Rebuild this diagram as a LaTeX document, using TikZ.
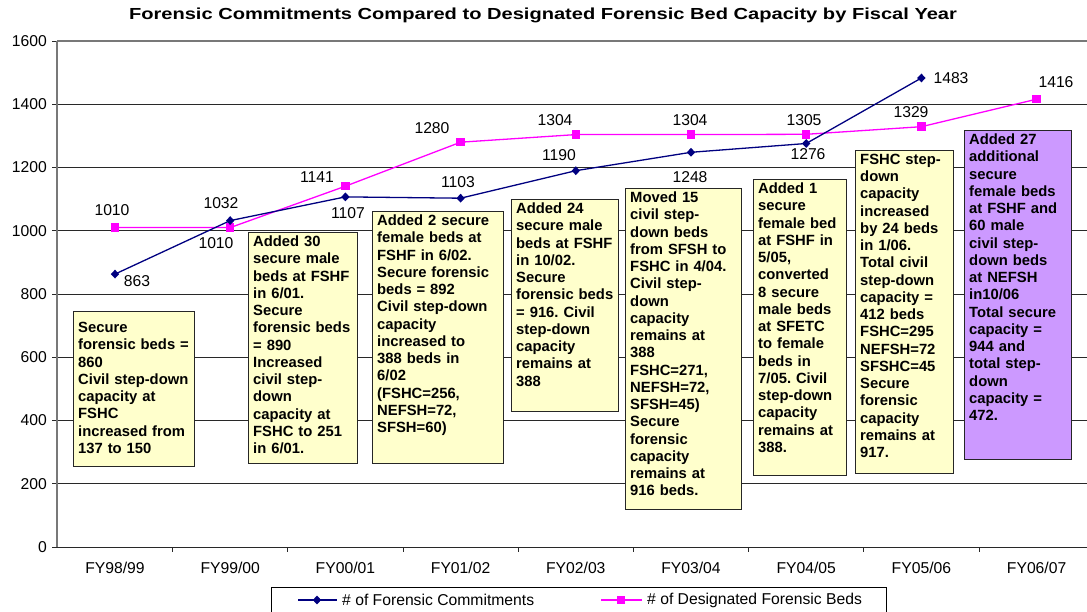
\documentclass[tikz,border=0pt]{standalone}
\usepackage{fontspec}
\setmainfont{Liberation Sans}
\usetikzlibrary{shapes.geometric}
\definecolor{navy}{RGB}{0,0,128}
\definecolor{mag}{RGB}{255,0,255}
\definecolor{note}{RGB}{255,255,204}
\definecolor{lilac}{RGB}{204,153,255}
\definecolor{gridc}{RGB}{40,40,40}
\definecolor{axisc}{RGB}{120,120,120}
\frenchspacing
\begin{document}
\begin{tikzpicture}[x=1pt,y=1pt,
 num/.style={font=\fontsize{15.7}{18}\selectfont, inner sep=0pt, text=black},
 boxfrm/.style={draw=black!85, line width=0.9pt, fill=note, inner sep=0pt, anchor=north west},
 boxtxt/.style={font=\fontsize{14.8}{17.25}\selectfont\bfseries, inner sep=0pt, anchor=north west, align=left},
 dia/.style={diamond, fill=navy, inner sep=0pt, minimum width=8.5pt, minimum height=9pt},
 sq/.style={rectangle, fill=mag, inner sep=0pt, minimum size=8.5pt},
 gridl/.style={draw=gridc, line width=0.8pt},
 tick/.style={draw=gridc, line width=0.8pt},
 navyl/.style={draw=navy, line width=1.3pt},
 magl/.style={draw=mag, line width=1.3pt}]
\useasboundingbox (0,0) rectangle (1087,611);
\begin{scope}[shift={(0,611)}, yscale=-1]
% title
\node[font=\fontsize{16}{19}\selectfont\bfseries, inner sep=0pt] (title) at (543,15)
 {\scalebox{1.255}[1]{Forensic Commitments Compared to Designated Forensic Bed Capacity by Fiscal Year}};
% grid and y labels
\foreach \v in {0,200,...,1400}{
  \pgfmathsetmacro\py{547-\v*0.31625}
  \coordinate (gl\v) at (57,\py);
  \coordinate (gr\v) at (1087,\py);
  \coordinate (gt\v) at (52,\py);
  \draw[gridl] (gl\v) -- (gr\v);
  \draw[tick] (gt\v) -- (gl\v);
  \node[num, anchor=east] (yl\v) at (47,\py) {\v};
}
\coordinate (gl1600) at (57,41);
\coordinate (gr1600) at (1087,41);
\coordinate (gt1600) at (52,41);
\draw[draw=axisc, line width=1.3pt] (gl1600) -- (gr1600);
\draw[tick] (gt1600) -- (gl1600);
\node[num, anchor=east] (yl1600) at (47,41) {1600};
\draw[draw=axisc, line width=1.3pt] (gl1600) -- (gl0);
% x ticks
\foreach \k in {1,...,9}{
  \pgfmathsetmacro\tx{57.4+115.2*\k}
  \coordinate (xt\k) at (\tx,547);
  \coordinate (xb\k) at (\tx,552);
  \draw[tick] (xt\k) -- (xb\k);
}
% x labels
\node[num] (x1) at (115,568) {FY98/99};
\node[num] (x2) at (230.2,568) {FY99/00};
\node[num] (x3) at (345.4,568) {FY00/01};
\node[num] (x4) at (460.6,568) {FY01/02};
\node[num] (x5) at (575.8,568) {FY02/03};
\node[num] (x6) at (691,568) {FY03/04};
\node[num] (x7) at (806.2,568) {FY04/05};
\node[num] (x8) at (921.4,568) {FY05/06};
\node[num] (x9) at (1036.6,568) {FY06/07};
% data points
\coordinate (c1) at (115,274.1);
\coordinate (c2) at (230.2,220.6);
\coordinate (c3) at (345.4,196.9);
\coordinate (c4) at (460.6,198.2);
\coordinate (c5) at (575.8,170.7);
\coordinate (c6) at (691,152.3);
\coordinate (c7) at (806.2,143.5);
\coordinate (c8) at (921.4,78.0);
\coordinate (b1) at (115,227.6);
\coordinate (b2) at (230.2,227.6);
\coordinate (b3) at (345.4,186.2);
\coordinate (b4) at (460.6,142.2);
\coordinate (b5) at (575.8,134.6);
\coordinate (b6) at (691,134.6);
\coordinate (b7) at (806.2,134.3);
\coordinate (b8) at (921.4,126.7);
\coordinate (b9) at (1036.6,99.2);
% boxes
\node[boxfrm, minimum width=121pt, minimum height=155pt] (n1) at (73,311) {};
\node[boxtxt, text width=114pt] (t1) at (78,322)
 {Secure\\forensic beds =\\860\\Civil step-down\\capacity at\\FSHC\\increased from\\137 to 150};
\node[boxfrm, minimum width=109pt, minimum height=231pt] (n2) at (248,232) {};
\node[boxtxt, text width=104pt] (t2) at (253,235.8)
 {Added 30\\secure male\\beds at FSHF\\in 6/01.\\Secure\\forensic beds\\= 890\\Increased\\civil step-\\down\\capacity at\\FSHC to 251\\in 6/01.};
\node[boxfrm, minimum width=131pt, minimum height=252pt] (n3) at (372,211) {};
\node[boxtxt, text width=126pt] (t3) at (377,214.8)
 {Added 2 secure\\female beds at\\FSHF in 6/02.\\Secure forensic\\beds = 892\\Civil step-down\\capacity\\increased to\\388 beds in\\6/02\\(FSHC=256,\\NEFSH=72,\\SFSH=60)};
\node[boxfrm, minimum width=107pt, minimum height=212pt] (n4) at (511,199) {};
\node[boxtxt, text width=102pt] (t4) at (516,202.8)
 {Added 24\\secure male\\beds at FSHF\\in 10/02.\\Secure\\forensic beds\\= 916. Civil\\step-down\\capacity\\remains at\\388};
\node[boxfrm, minimum width=116pt, minimum height=321pt] (n5) at (625,188) {};
\node[boxtxt, text width=111pt] (t5) at (630,191.8)
 {Moved 15\\civil step-\\down beds\\from SFSH to\\FSHC in 4/04.\\Civil step-\\down\\capacity\\remains at\\388\\FSHC=271,\\NEFSH=72,\\SFSH=45)\\Secure\\forensic\\capacity\\remains at\\916 beds.};
\node[boxfrm, minimum width=93pt, minimum height=296pt] (n6) at (753,179) {};
\node[boxtxt, text width=88pt] (t6) at (758,182.8)
 {Added 1\\secure\\female bed\\at FSHF in\\5/05,\\converted\\8 secure\\male beds\\at SFETC\\to female\\beds in\\7/05. Civil\\step-down\\capacity\\remains at\\388.};
\node[boxfrm, minimum width=98pt, minimum height=323pt] (n7) at (855,150) {};
\node[boxtxt, text width=93pt] (t7) at (860,153.8)
 {FSHC step-\\down\\capacity\\increased\\by 24 beds\\in 1/06.\\Total civil\\step-down\\capacity =\\412 beds\\FSHC=295\\NEFSH=72\\SFSHC=45\\Secure\\forensic\\capacity\\remains at\\917.};
\node[boxfrm, fill=lilac, minimum width=107pt, minimum height=329pt] (n8) at (964,130) {};
\node[boxtxt, text width=102pt] (t8) at (969,133.8)
 {Added 27\\additional\\secure\\female beds\\at FSHF and\\60 male\\civil step-\\down beds\\at NEFSH\\in10/06\\Total secure\\capacity =\\944 and\\total step-\\down\\capacity =\\472.};
% series lines
\draw[magl] (b1) -- (b2) -- (b3) -- (b4) -- (b5) -- (b6) -- (b7) -- (b8) -- (b9);
\draw[navyl] (c1) -- (c2) -- (c3) -- (c4) -- (c5) -- (c6) -- (c7) -- (c8);
\foreach \i in {1,...,9}{ \node[sq] (mb\i) at (b\i) {}; }
\foreach \i in {1,...,8}{ \node[dia] (mc\i) at (c\i) {}; }
% data labels
\node[num] (lc1) at (137,281) {863};
\node[num] (lc2) at (221,203) {1032};
\node[num] (lc3) at (348,213) {1107};
\node[num] (lc4) at (458,182) {1103};
\node[num] (lc5) at (559,155) {1190};
\node[num] (lc6) at (690,177) {1248};
\node[num] (lc7) at (808,154) {1276};
\node[num] (lc8) at (951,78) {1483};
\node[num] (lb1) at (112,210) {1010};
\node[num] (lb2) at (216,243) {1010};
\node[num] (lb3) at (317,177) {1141};
\node[num] (lb4) at (432,128) {1280};
\node[num] (lb5) at (555,120) {1304};
\node[num] (lb6) at (690,120) {1304};
\node[num] (lb7) at (804,120) {1305};
\node[num] (lb8) at (911,112) {1329};
\node[num] (lb9) at (1056,82) {1416};
% legend
\node[draw=black, line width=0.8pt, minimum width=615pt, minimum height=40pt, anchor=north west, inner sep=0pt] (leg) at (271,587) {};
\coordinate (la) at (298,600);
\coordinate (lb) at (337,600);
\draw[navyl] (la) -- (lb);
\node[dia] (legm1) at (317,600) {};
\node[num, anchor=west] (legt1) at (342,600) {\# of Forensic Commitments};
\coordinate (lc) at (601,600);
\coordinate (ld) at (642,600);
\draw[magl] (lc) -- (ld);
\node[sq] (legm2) at (621,600) {};
\node[num, anchor=west] (legt2) at (647,600) {\# of Designated Forensic Beds};
\end{scope}
\end{tikzpicture}
\end{document}
